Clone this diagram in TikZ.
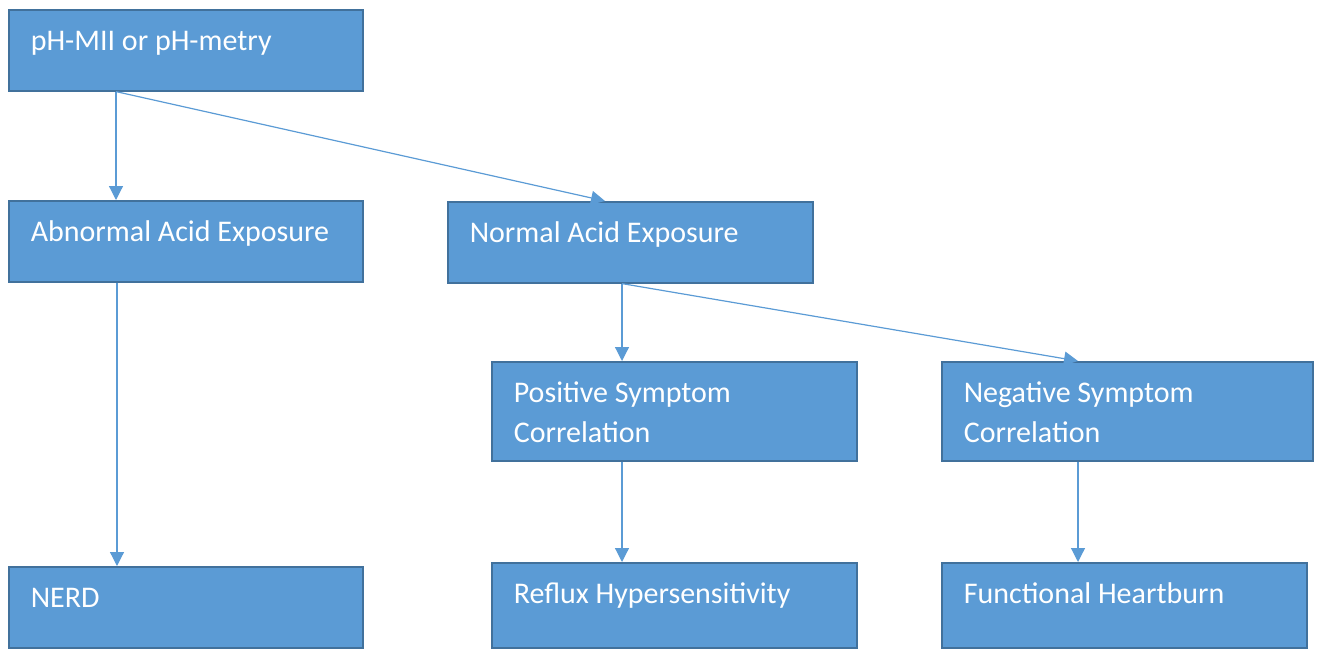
\documentclass[tikz,border=0pt]{standalone}
\usepackage{fontspec}
\setmainfont{Carlito}
\usetikzlibrary{arrows.meta,calc}
\definecolor{boxfill}{HTML}{5B9BD5}
\definecolor{boxline}{HTML}{41719C}
\definecolor{arrline}{HTML}{5B9BD5}
\begin{document}
\begin{tikzpicture}[x=1pt,y=-1pt,
  box/.style={draw=boxline,line width=1.6pt,fill=boxfill,anchor=north west,
    text=white,align=left,inner ysep=0pt,inner xsep=22pt,
    font=\fontsize{30}{40}\selectfont,text height=41pt,
    execute at begin node={\spaceskip=0.226em\xspaceskip=0.226em\relax}},
  arr/.style={draw=arrline,line width=1.2pt,-{Triangle[length=14pt,width=14pt]}}]
\useasboundingbox (0,0) rectangle (1319,648);
\node[box,text width=310pt,text depth=40pt] (ph) at (8,9) {pH-MII or pH-metry};
\node[box,text width=310pt,text depth=40pt] (abn) at (8,200) {Abnormal Acid Exposure};
\node[box,text width=321pt,text depth=40pt] (nor) at (447,201) {Normal Acid Exposure};
\node[box,text width=321pt,text depth=58pt] (pos) at (491,361) {Positive Symptom\\Correlation};
\node[box,text width=327pt,text depth=58pt] (neg) at (941,361) {Negative Symptom\\Correlation};
\node[box,text width=310pt,text depth=40pt] (nerd) at (8,566) {NERD};
\node[box,text width=321pt,text depth=44pt] (ref) at (491,562) {Reflux Hypersensitivity};
\node[box,text width=321pt,text depth=44pt] (fun) at (941,562) {Functional Heartburn};
\coordinate (phs) at ($(ph.south west)+(108,0)$);
\coordinate (abnn) at ($(abn.north west)+(108,0)$);
\coordinate (abns) at ($(abn.south west)+(109,0)$);
\coordinate (nerdn) at ($(nerd.north west)+(109,0)$);
\coordinate (norn) at ($(nor.north west)+(158,0)$);
\coordinate (nors) at ($(nor.south west)+(175,0)$);
\coordinate (posn) at ($(pos.north west)+(131,0)$);
\coordinate (negn) at ($(neg.north west)+(137,0)$);
\coordinate (poss) at ($(pos.south west)+(131,0)$);
\coordinate (refn) at ($(ref.north west)+(131,0)$);
\coordinate (negs) at ($(neg.south west)+(137,0)$);
\coordinate (funn) at ($(fun.north west)+(137,0)$);
\draw[arr] (phs) -- (abnn);
\draw[arr] (phs) -- (norn);
\draw[arr] (abns) -- (nerdn);
\draw[arr] (nors) -- (posn);
\draw[arr] (nors) -- (negn);
\draw[arr] (poss) -- (refn);
\draw[arr] (negs) -- (funn);
\end{tikzpicture}
\end{document}
